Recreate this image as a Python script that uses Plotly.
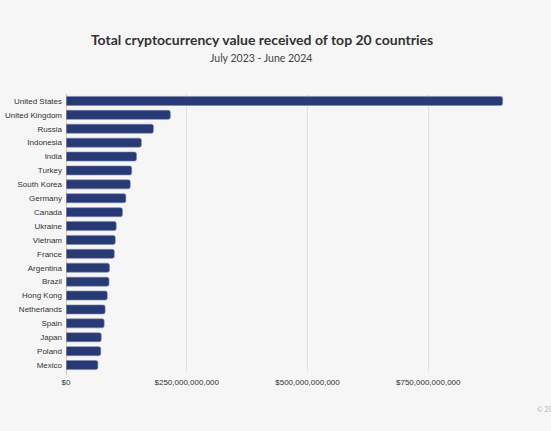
import plotly.graph_objects as go

countries = ["United States", "United Kingdom", "Russia", "Indonesia", "India",
             "Turkey", "South Korea", "Germany", "Canada", "Ukraine", "Vietnam",
             "France", "Argentina", "Brazil", "Hong Kong", "Netherlands", "Spain",
             "Japan", "Poland", "Mexico"]
# total value received, USD
values = [904e9, 216e9, 181e9, 156e9, 146e9, 136e9, 133e9, 124e9, 117e9, 104e9,
          102e9, 100e9, 90e9, 89e9, 85.5e9, 81e9, 79e9, 73e9, 72e9, 66e9]
tick_vals = [0, 250e9, 500e9, 750e9, 1000e9]
tick_text = ["$0", "$250,000,000,000", "$500,000,000,000", "$750,000,000,000", ""]

fig = go.Figure(go.Bar(
    y=countries,
    x=values,
    orientation="h",
    marker=dict(color="#283a75", line=dict(color="#7d88ad", width=0.6), cornerradius=2),
))

fig.update_layout(
    width=551, height=431,
    paper_bgcolor="#f6f6f6", plot_bgcolor="#f6f6f6",
    margin=dict(l=66, r=2, t=94, b=59),
    bargap=0.35,
    showlegend=False,
    title=dict(
        text="<b>Total cryptocurrency value received of top 20 countries</b>",
        x=262 / 551, xanchor="center", xref="container",
        y=1 - 40 / 431, yanchor="middle", yref="container",
        font=dict(family="Lato, Open Sans, sans-serif", size=14, color="#333333"),
    ),
    annotations=[
        dict(text="July 2023 - June 2024", xref="paper", yref="paper",
             x=(261 - 66) / 483, y=1 + (94 - 58) / 278, xanchor="center", yanchor="middle",
             showarrow=False,
             font=dict(family="Lato, Open Sans, sans-serif", size=10.5, color="#444444")),
        dict(text="© 2024 Chainalysis", xref="paper", yref="paper",
             x=(535 - 66) / 483, y=-(409 - 372) / 278, xanchor="left", yanchor="middle",
             showarrow=False,
             font=dict(family="Lato, sans-serif", size=7, color="#b5b5b5")),
    ],
    xaxis=dict(
        range=[0, 1000e9], tickvals=tick_vals, ticktext=tick_text,
        showgrid=True, gridcolor="#e2e2e2", gridwidth=1,
        zeroline=False, showline=False,
        ticks="", ticklabelstandoff=4,
        tickfont=dict(family="Liberation Sans, Arial, sans-serif", size=8, color="#333333"),
    ),
    yaxis=dict(
        autorange="reversed", showgrid=False, zeroline=False,
        showline=False, ticks="", ticklabelstandoff=3,
        tickfont=dict(family="Liberation Sans, Arial, sans-serif", size=8, color="#333333"),
    ),
    shapes=[dict(type="line", xref="x", yref="paper", x0=0, x1=0, y0=-0.01, y1=1,
                 line=dict(color="#9a9a9a", width=1))],
)

fig.write_html("out.html", config={"displayModeBar": False},
               post_script="document.body.style.margin='0';")
